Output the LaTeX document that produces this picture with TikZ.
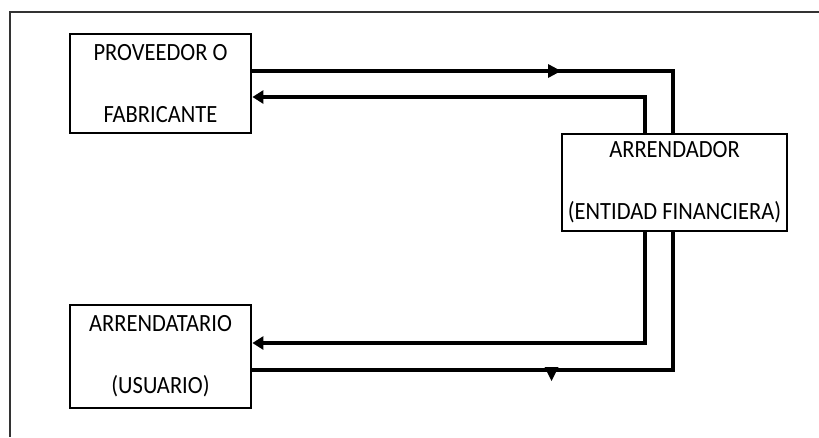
\documentclass[tikz,border=0pt]{standalone}
\usepackage{fontspec}
\usepackage{graphicx}
\setmainfont{Carlito}
\usetikzlibrary{arrows.meta}
\newcommand\vstretch[1]{\scalebox{1}[1.1]{#1}}
\begin{document}
\begin{tikzpicture}[x=1pt,y=-1pt,
  box/.style={draw, line width=2.8pt, inner sep=0pt, align=center,
    font=\fontsize{22.5}{62}\selectfont},
  conn/.style={line width=3.2pt},
  tipL/.style={-{Triangle[length=11pt,width=13pt]}}]
\useasboundingbox (0,0) rectangle (819,437);
\draw[line width=2pt, black!80] (819,12) -- (10,12) -- (10,437);
\node[box, minimum width=181pt, minimum height=99pt] (prov) at (160.5,83.5) {\vstretch{PROVEEDOR O}\\\vstretch{FABRICANTE}};
\node[box, minimum width=225pt, minimum height=97pt] (arr) at (674.5,182.5) {\vstretch{ARRENDADOR}\\\vstretch{(ENTIDAD FINANCIERA)}};
\node[box, minimum width=181pt, minimum height=103pt] (usu) at (160.5,356.5) {\vstretch{ARRENDATARIO}\\\vstretch{(USUARIO)}};
\path (prov.east) ++(0,-12.5) coordinate (p1);
\path (prov.east) ++(0,13.5) coordinate (p2);
\path (usu.east) ++(0,-13.5) coordinate (u1);
\path (usu.east) ++(0,13.5) coordinate (u2);
\coordinate (ano) at ([xshift=-1.5pt]arr.north);
\coordinate (ani) at ([xshift=-29.5pt]arr.north);
\coordinate (aso) at ([xshift=-1.5pt]arr.south);
\coordinate (asi) at ([xshift=-29.5pt]arr.south);
\draw[conn] (p1) -| (ano);
\draw[conn, tipL] (ani) |- (p2);
\draw[conn, tipL] (asi) |- (u1);
\draw[conn] (aso) |- (u2);
\fill (548,64) -- (561,71) -- (548,78) -- cycle;
\fill (544.5,367) -- (558.5,367) -- (551.5,381) -- cycle;
\end{tikzpicture}
\end{document}
